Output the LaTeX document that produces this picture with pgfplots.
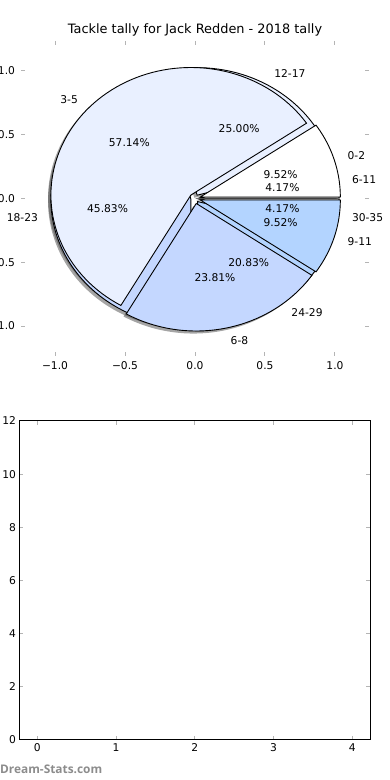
\documentclass[border=0pt]{standalone}
\usepackage{graphicx}
\usepackage{pgfplots}
\pgfplotsset{compat=1.18}
\usepackage{fontspec}
\setmainfont{DejaVu Sans}
\newfontfamily\wmfont{Open Sans}
\definecolor{cw}{HTML}{FFFFFF}
\definecolor{cl}{HTML}{E9F0FF}
\definecolor{cp}{HTML}{C4D7FF}
\definecolor{cb}{HTML}{B3D4FF}
\definecolor{tickc}{HTML}{B4B4B4}
\newcommand\tf{\fontsize{10.7}{12}\selectfont}
% #1 cumulative count before, #2 count, #3 total, #4 explode
\newcommand\wcalc[4]{%
  \pgfmathsetmacro\wa{360*#1/#3}%
  \pgfmathsetmacro\wb{360*(#1+#2)/#3}%
  \pgfmathsetmacro\wm{(\wa+\wb)/2}%
  \pgfmathsetmacro\wdx{#4*cos(\wm)}%
  \pgfmathsetmacro\wdy{#4*sin(\wm)}%
}
\newcommand\wshadow[4]{\wcalc{#1}{#2}{#3}{#4}%
  \pgfmathsetmacro\sdx{\wdx-0.02}\pgfmathsetmacro\sdy{\wdy-0.02}%
  \edef\tmp{\noexpand\addplot[draw=none, fill=black!70, fill opacity=0.5, domain=\wa:\wb, samples=90, variable=\noexpand\t] ({\sdx+cos(\noexpand\t)},{\sdy+sin(\noexpand\t)}) -- (axis cs:\sdx,\sdy) -- cycle;}\tmp}
\newcommand\wwedge[5]{\wcalc{#1}{#2}{#3}{#4}%
  \edef\tmp{\noexpand\addplot[draw=black, line width=0.9pt, fill=#5, domain=\wa:\wb, samples=90, variable=\noexpand\t] ({\wdx+cos(\noexpand\t)},{\wdy+sin(\noexpand\t)}) -- (axis cs:\wdx,\wdy) -- cycle;}\tmp}
\newcommand\wlabel[5]{\wcalc{#1}{#2}{#3}{#4}%
  \pgfmathsetmacro\lx{\wdx+1.1*cos(\wm)}\pgfmathsetmacro\ly{\wdy+1.1*sin(\wm)}%
  \pgfmathsetmacro\px{\wdx+0.6*cos(\wm)}\pgfmathsetmacro\py{\wdy+0.6*sin(\wm)}%
  \pgfmathsetmacro\pct{100*#2/#3}%
  \pgfkeys{/pgf/number format/.cd,fixed,fixed zerofill,precision=2,assume math mode=true}%
  \pgfmathprintnumberto{\pct}{\pcts}%
  \ifdim\lx pt>0pt \def\anc{west}\else\def\anc{east}\fi
  \edef\tmp{\noexpand\node[anchor=\anc, inner sep=0pt, font=\noexpand\tf] at (axis cs:\lx,\ly) {#5}; \noexpand\node[inner sep=0pt, font=\noexpand\tf] at (axis cs:\px,\py) {\unexpanded\expandafter{\pcts}\noexpand\%};}\tmp}
\begin{document}
\begin{tikzpicture}
\useasboundingbox (0,0) rectangle (390pt,780pt);
\begin{axis}[at={(21pt,424pt)}, anchor=south west, scale only axis,
  width=348pt, height=315pt, clip=false,
  xmin=-1.243, xmax=1.243, ymin=-1.235, ymax=1.235,
  axis line style={draw=none},
  xtick={-1,-0.5,0,0.5,1}, xticklabels={−1.0,−0.5,0.0,0.5,1.0},
  ytick={-1,-0.5,0,0.5,1}, yticklabels={−1.0,−0.5,0.0,0.5,1.0},
  tick align=inside, major tick length=4pt,
  tick style={tickc, line width=1pt},
  ticklabel style={font=\tf},
  xticklabel style={yshift=-2pt}, yticklabel style={xshift=-2.5pt}]
% shadows (pie 2: 6-11,12-17,18-23,24-29,30-35 ; pie 1: 0-2,3-5,6-8,9-11)
\wshadow{0}{1}{24}{0.03}
\wshadow{1}{6}{24}{0.03}
\wshadow{7}{11}{24}{0.03}
\wshadow{18}{5}{24}{0.03}
\wshadow{23}{1}{24}{0.03}
\wshadow{0}{2}{21}{0.04}
\wshadow{2}{12}{21}{0.04}
\wshadow{14}{5}{21}{0.04}
\wshadow{19}{2}{21}{0.04}
% pie 2 wedges
\wwedge{0}{1}{24}{0.03}{cw}
\wwedge{1}{6}{24}{0.03}{cl}
\wwedge{7}{11}{24}{0.03}{cp}
\wwedge{18}{5}{24}{0.03}{cb}
\wwedge{23}{1}{24}{0.03}{cw}
% pie 1 wedges
\wwedge{0}{2}{21}{0.04}{cw}
\wwedge{2}{12}{21}{0.04}{cl}
\wwedge{14}{5}{21}{0.04}{cp}
\wwedge{19}{2}{21}{0.04}{cb}
% labels
\wlabel{0}{1}{24}{0.03}{6-11}
\wlabel{1}{6}{24}{0.03}{12-17}
\wlabel{7}{11}{24}{0.03}{18-23}
\wlabel{18}{5}{24}{0.03}{24-29}
\wlabel{23}{1}{24}{0.03}{30-35}
\wlabel{0}{2}{21}{0.04}{0-2}
\wlabel{2}{12}{21}{0.04}{3-5}
\wlabel{14}{5}{21}{0.04}{6-8}
\wlabel{19}{2}{21}{0.04}{9-11}
\end{axis}
\node[font=\fontsize{12.9}{15}\selectfont, inner sep=0pt] at (195pt,750pt) {Tackle tally for Jack Redden - 2018 tally};
\begin{axis}[at={(19.5pt,40pt)}, anchor=south west, scale only axis,
  width=350.5pt, height=319pt,
  xmin=-0.226, xmax=4.225, ymin=0, ymax=12,
  xtick={0,1,2,3,4}, ytick={0,2,4,6,8,10,12},
  tick align=inside, major tick length=4pt,
  tick style={tickc, line width=1pt},
  axis line style={black, line width=1pt},
  ticklabel style={font=\tf},
  /pgf/number format/assume math mode=true]
\end{axis}
\node[anchor=west, inner sep=0pt, text=black!45] at (0pt,11pt) {\resizebox{102pt}{!}{\wmfont\bfseries Dream-Stats.com}};
\end{tikzpicture}
\end{document}
